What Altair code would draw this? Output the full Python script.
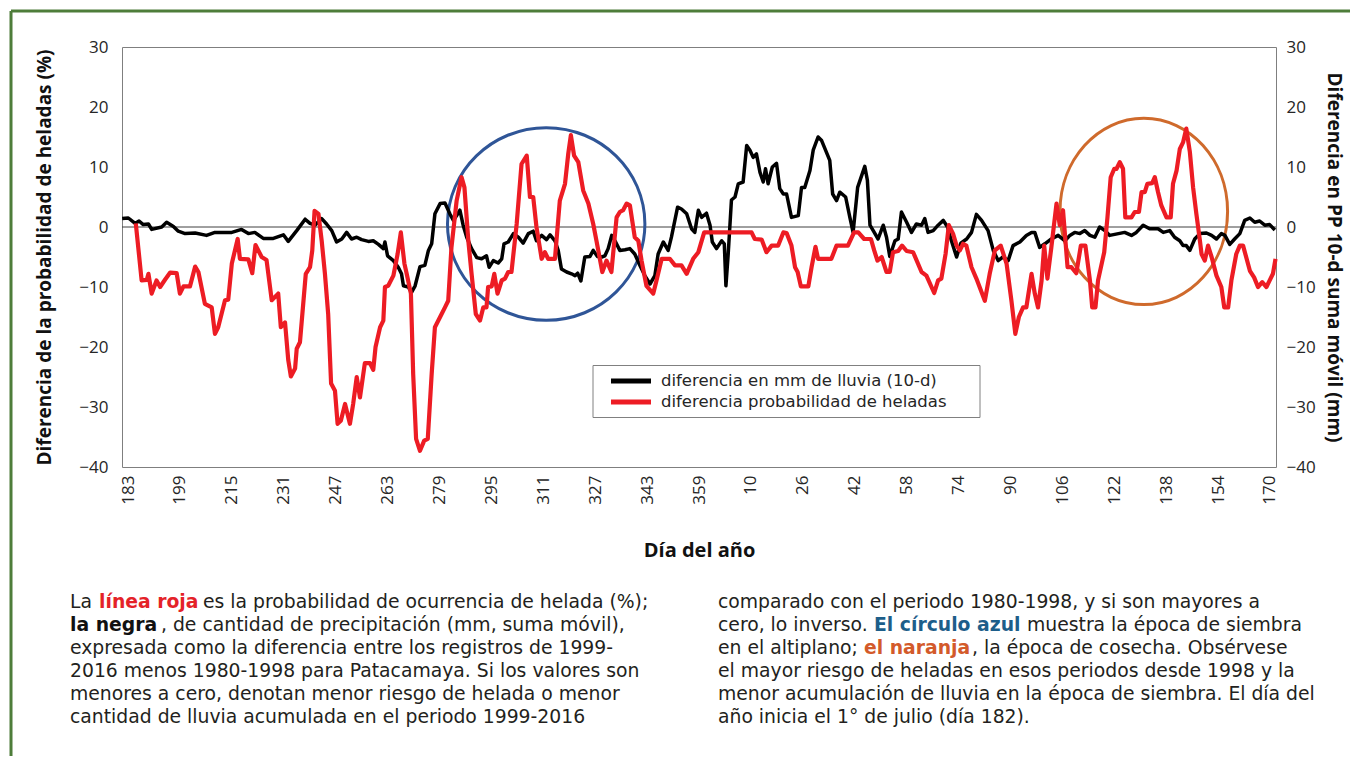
import altair as alt
import pandas as pd

# ---------------- data ----------------
black_days = [181.2, 183.1, 185.2, 186.4, 187.7, 189.3, 190.3, 193.4, 194.9, 197.0, 198.5, 200.6, 203.7, 207.2,
              209.8, 215.0, 218.0, 220.1, 222.1, 224.7, 227.8, 230.9, 232.4, 235.0, 237.6,
              239.1, 240.6, 242.7, 244.2, 245.8, 247.3, 248.9, 250.4, 251.9, 253.5, 255.0, 257.1, 258.6, 260.2,
              261.7, 262.2, 263.0, 264.8, 266.3, 267.3, 267.9, 269.4, 270.4, 271.5, 273.0, 274.5, 275.6, 276.6,
              277.6, 279.2, 280.7, 282.2, 283.3, 284.3, 285.3, 286.3, 287.4, 288.9, 290.5, 292.0, 293.5, 294.3,
              295.6, 297.1, 298.2, 298.9,
              300.2, 301.8, 303.3, 304.8, 306.4, 307.9, 308.9, 310.5, 312.0, 313.1, 314.6, 315.6, 316.6, 318.2,
              319.7, 320.8, 321.6, 322.6, 323.8, 325.4, 326.4, 327.7, 329.0, 330.0, 331.0, 332.1, 333.1, 334.6,
              336.2, 337.7, 339.2, 340.8, 342.3, 343.9, 345.4, 346.4, 348.0, 349.5, 350.5, 352.4, 353.6, 355.2,
              356.7,
              357.7, 358.8, 359.8, 361.3, 362.4, 363.1, 364.4, 366.0, 366.8, 367.3, 368.0, 369.0, 370.1, 371.1,
              372.6, 373.7, 374.7, 375.7, 376.7, 377.8, 378.8, 379.5, 380.3, 381.6, 382.9, 383.9, 385.0, 386.0,
              387.5, 389.6, 390.6, 391.6, 393.2, 394.2, 395.7, 396.8, 399.3, 400.2, 401.4, 402.4, 404.2, 405.5,
              406.5, 407.9, 410.1, 410.9, 411.7, 412.7,
              414.2, 415.8, 416.8, 417.8, 419.4, 420.4, 421.4, 423.0, 424.5, 426.0, 427.6, 428.6, 429.6, 431.2,
              432.7, 434.3, 435.6, 436.8, 438.4, 439.7, 441.5, 443.0, 444.5, 446.1, 448.1, 449.7, 451.2, 452.7,
              454.3, 455.8, 457.9, 459.9, 461.5, 462.5, 464.0, 465.6, 467.6, 469.7,
              471.8, 473.3, 474.8, 476.4, 477.9, 479.5, 481.0, 482.5, 484.1, 485.6, 490.2, 492.3, 493.8, 495.9,
              497.9, 500.5, 502.1, 504.1, 505.6, 507.2, 508.2, 509.2, 510.3, 511.8, 513.4, 515.4, 517.0, 518.5,
              520.0, 521.1, 522.6, 524.1, 525.7, 527.2, 528.8, 530.3, 531.8, 533.4, 534.9, 536.5]
black_vals = [1.4, 1.5, 0.6, 1.0, 0.4, 0.5, -0.4, 0.0, 0.8, 0.1, -0.7, -1.1, -1.0, -1.4,
              -0.9, -0.9, -0.4, -1.1, -0.9, -1.9, -1.9, -1.3, -2.4, -0.6, 1.3,
              0.6, 0.3, 1.4, 0.5, -0.6, -2.5, -2.0, -0.9, -2.0, -1.7, -2.1, -2.4, -2.3, -2.9,
              -3.6, -2.5, -4.8, -5.6, -6.7, -7.8, -9.8, -10.0, -10.9, -9.8, -6.6, -6.4, -3.9, -2.8,
              2.2, 3.9, 4.0, 2.2, 1.1, 1.9, 2.8, 0.3, -1.7, -3.6, -5.1, -5.3, -4.8, -6.7,
              -5.6, -6.0, -5.3, -2.8,
              -2.5, -1.1, -1.7, -2.7, -1.1, -0.7, -2.3, -1.4, -2.1, -1.3, -2.3, -3.9, -7.0, -7.5,
              -7.8, -8.1, -7.7, -9.0, -5.0, -4.9, -3.9, -4.9, -5.0, -4.8, -3.6, -1.4, -2.3, -3.9,
              -3.8, -3.6, -4.5, -6.4, -8.1, -9.5, -8.1, -4.5, -2.5, -3.9, -1.7, 3.3, 3.0, 2.2,
              -0.3,
              -0.9, 2.8, 1.6, 2.3, 0.3, -2.5, -3.6, -2.3, -2.8, -9.8, -4.5, 4.5, 5.0, 7.2,
              7.5, 13.6, 12.8, 11.6, 12.2, 9.1, 7.5, 9.7, 7.2, 10.0, 10.6, 6.4, 5.5, 5.5,
              1.6, 1.9, 6.6, 6.6, 9.4, 12.8, 15.0, 14.4, 11.1, 5.5, 4.4, 5.8, 5.0, 1.6,
              -0.9, 6.6, 10.1, 7.8, 0.3, -0.6,
              -2.0, 0.3, -1.7, -4.9, -2.3, -2.0, 2.5, 0.8, -0.9, 0.5, 0.3, 1.4, -0.9, -0.6,
              0.3, 1.1, 0.0, -2.3, -5.0, -2.7, -2.0, -0.9, 2.1, 1.1, -0.6, -3.9, -5.6, -5.0,
              -5.6, -3.1, -2.5, -1.4, -0.9, -0.9, -3.4, -2.8, -2.0, -1.4,
              -2.3, -1.4, -0.9, -1.1, -0.6, -1.4, -1.7, 0.0, -0.6, -1.4, -0.9, -1.4, -0.9, 0.3,
              -0.3, -0.3, -0.9, -0.6, -1.7, -2.3, -3.1, -3.1, -3.9, -2.0, -1.1, -1.0, -1.4, -2.0,
              -1.1, -1.4, -2.9, -2.0, -1.1, 1.1, 1.5, 0.8, 1.0, 0.3, 0.4, -0.5]

red_days = [185.4, 187.2, 188.8, 189.3, 190.3, 191.8, 192.9, 194.4, 196.0, 198.0, 199.0, 200.1, 202.1, 203.7,
            204.7, 206.7, 208.8, 209.8, 210.8, 212.9, 213.9, 215.0, 216.8, 217.5, 220.1, 221.3, 222.3, 224.2,
            225.7, 227.3, 229.3, 230.1, 231.4, 232.4, 233.2, 234.5, 235.0, 236.0, 237.8, 239.1, 239.8, 240.5,
            241.7, 242.7, 243.7, 244.7, 245.6, 246.8, 247.6, 248.6, 249.9, 251.4, 252.4, 253.5, 254.5, 256.0,
            257.6, 258.6, 259.3, 260.7, 261.7, 262.2, 263.2, 264.8, 266.1, 267.1, 268.2, 268.9, 270.2, 270.9,
            271.8, 273.0, 274.3, 275.4, 276.6, 277.6, 279.2, 280.7, 281.7, 282.7, 284.3, 285.8, 286.7, 287.9,
            288.9, 290.2, 291.5, 292.5, 293.5, 294.0, 295.1, 295.9, 296.9, 298.2, 299.2, 300.2, 301.2, 302.8,
            304.3, 305.9, 306.9, 307.9, 308.9, 310.5, 311.5, 312.5, 314.6, 316.1, 317.7, 318.7, 319.5, 320.5,
            321.8, 323.3, 324.9, 326.4, 327.4, 329.2, 330.5, 332.0, 333.6, 334.6, 335.6, 336.7, 337.7, 339.2,
            340.3, 341.3, 342.8, 344.9, 345.9, 347.5, 350.0, 351.6, 353.6, 355.2, 357.2, 358.8, 360.6, 375.2,
            376.2, 378.3, 379.8, 381.4, 383.4, 385.0, 386.0, 387.5, 388.6, 389.4, 390.4, 392.7, 393.7, 394.9,
            395.7, 399.8, 401.4, 404.9, 406.8, 408.1, 409.9, 412.0, 413.0, 414.0, 415.3, 416.8, 417.8, 418.8,
            420.4, 421.6, 423.0, 425.0, 427.6, 429.1, 431.5, 432.7, 433.7, 435.0, 436.0, 437.3, 438.4, 439.4,
            440.4, 441.4, 443.0, 444.5, 447.1, 448.6, 450.2, 452.0, 453.8, 455.3, 456.5, 457.6, 458.9, 459.9,
            461.5, 462.5, 463.5, 464.6, 465.4, 466.4, 467.6, 469.2, 470.2, 471.2, 472.6, 473.8, 475.3, 476.7,
            478.1, 479.5, 480.2, 481.2, 482.0, 483.9, 484.9, 485.9, 487.0, 487.7, 488.7, 489.7, 490.4, 492.3,
            493.3, 494.6, 495.4, 496.4, 497.2, 498.7, 499.5, 500.5, 501.5, 503.1, 504.4, 505.1, 506.2, 507.2,
            508.2, 509.2, 510.3, 511.3, 512.3, 513.4, 513.9, 514.9, 515.9, 517.0, 518.5, 520.0, 520.9, 522.1,
            523.1, 524.6, 525.7, 526.7, 528.8, 530.1, 531.3, 532.6, 533.9, 534.9, 535.9, 536.7]
red_vals = [0.6, -8.9, -8.8, -7.8, -11.1, -8.9, -10.0, -8.8, -7.6, -7.7, -11.1, -9.9, -9.9, -6.6,
            -7.5, -12.8, -13.4, -17.8, -16.7, -12.2, -12.1, -6.1, -2.0, -5.3, -5.4, -7.7, -3.0, -5.0,
            -5.5, -12.2, -11.1, -16.7, -15.9, -22.2, -24.9, -23.6, -20.3, -19.2, -7.8, -6.7, -3.9, 2.7,
            2.2, -2.3, -7.8, -14.5, -26.1, -27.3, -32.8, -32.3, -29.5, -32.8, -29.5, -25.0, -28.4, -22.7,
            -22.7, -23.8, -20.0, -16.7, -15.6, -10.0, -9.8, -8.1, -4.5, -0.9, -6.1, -7.8, -11.1, -24.5,
            -35.3, -37.3, -35.6, -35.3, -24.5, -16.7, -15.0, -13.4, -12.3, -3.4, 4.4, 8.3, 6.6, -2.3,
            -7.8, -14.5, -15.6, -13.4, -13.4, -10.0, -9.9, -7.8, -11.1, -8.9, -8.6, -7.5, -7.5, 0.5,
            10.5, 11.9, 5.0, 5.0, 0.0, -5.3, -4.2, -5.3, -5.3, 4.4, 7.2, 12.2, 15.3, 11.9,
            10.8, 6.1, 3.9, 0.5, -2.3, -7.5, -5.6, -7.5, 1.6, 2.5, 2.8, 3.9, 3.6, -1.7,
            -2.3, -5.6, -9.8, -11.1, -8.9, -5.3, -5.3, -6.4, -6.4, -7.8, -5.3, -4.2, -0.9, -0.9,
            -2.0, -2.1, -4.2, -3.1, -3.1, -0.9, -1.0, -3.1, -6.7, -7.5, -9.9, -9.9, -6.7, -3.3,
            -5.3, -5.3, -3.1, -3.1, -0.9, -0.9, -2.0, -2.0, -3.9, -5.6, -5.0, -7.5, -7.5, -4.2,
            -4.0, -3.1, -4.0, -4.2, -7.5, -8.1, -11.0, -8.9, -8.6, -4.5, 0.3, -1.1, -3.1, -3.9,
            -2.8, -3.1, -6.7, -8.6, -12.3, -7.8, -3.9, -3.1, -6.1, -12.3, -17.8, -15.0, -13.4, -13.4,
            -7.8, -11.1, -13.4, -8.9, -3.1, -8.6, -3.4, 3.9, 0.3, 2.8, -6.7, -6.7, -7.7, -3.1,
            -3.1, -8.9, -13.4, -13.4, -8.9, -4.2, 1.6, 8.3, 9.7, 9.7, 10.8, 9.7, 1.6, 1.6,
            2.5, 2.5, 5.8, 5.8, 7.2, 7.3, 8.3, 5.8, 3.6, 1.6, 1.6, 7.2, 9.4, 13.0,
            14.1, 16.4, 12.5, 6.6, 2.2, -2.3, -4.5, -5.6, -3.1, -5.0, -8.1, -10.0, -13.4, -13.4,
            -8.9, -4.5, -3.1, -3.1, -7.3, -8.4, -10.0, -9.2, -10.0, -8.9, -7.8, -5.3]

series_names = ["diferencia en mm de lluvia (10-d)", "diferencia probabilidad de heladas"]
series_colors = ["#000000", "#ed1c24"]

tick_days = [183, 199, 215, 231, 247, 263, 279, 295, 311, 327, 343, 359,
             375, 391, 407, 423, 439, 455, 471, 487, 503, 519, 535]
tick_labels = ["183", "199", "215", "231", "247", "263", "279", "295", "311", "327", "343", "359",
               "10", "26", "42", "58", "74", "90", "106", "122", "138", "154", "170"]
y_ticks = [-40, -30, -20, -10, 0, 10, 20, 30]

circle_days = [311.9, 496.1]
circle_vals = [0.5, 2.6]
circle_colors = ["#2f5597", "#cf6a2c"]

left_title = "Diferencia de la probabilidad de heladas (%)"
right_title = "Diferencia en PP 10-d suma móvil (mm)"
x_title = "Día del año"

caption_left = [
    [("La", None), ("línea roja", "#e42228"), ("es la probabilidad de ocurrencia de helada (%);", None)],
    [("la negra", "#111111"), (", de cantidad de precipitación (mm, suma móvil),", None)],
    [("expresada como la diferencia entre los registros de 1999-", None)],
    [("2016 menos 1980-1998 para Patacamaya. Si los valores son", None)],
    [("menores a cero, denotan menor riesgo de helada o menor", None)],
    [("cantidad de lluvia acumulada en el periodo 1999-2016", None)],
]
caption_right = [
    [("comparado con el periodo 1980-1998, y si son mayores a", None)],
    [("cero, lo inverso.", None), ("El círculo azul", "#1d5e8a"), ("muestra la época de siembra", None)],
    [("en el altiplano;", None), ("el naranja", "#d35a2a"), (", la época de cosecha. Obsérvese", None)],
    [("el mayor riesgo de heladas en esos periodos desde 1998 y la", None)],
    [("menor acumulación de lluvia en la época de siembra. El día del", None)],
    [("año inicia el 1° de julio (día 182).", None)],
]

# ---------------- layout / style ----------------
FONT = "Open Sans"
CAP_FONT = "DejaVu Sans"
W, H = 1154, 420
OX, OY = 122, 47          # page position of plot origin
TEXT_COLOR = "#231f20"
CAP_SIZE = 18.8

xscale = alt.Scale(domain=[181.15, 536.85], nice=False, zero=False)
yscale = alt.Scale(domain=[-40, 30], nice=False, zero=False)

label_expr = ("[" + ",".join("'%s'" % s for s in tick_labels) + "][indexof(["
              + ",".join(str(d) for d in tick_days) + "], datum.value)]")

x_enc = alt.X("d:Q", scale=xscale,
              axis=alt.Axis(values=tick_days, labelExpr=label_expr, labelAngle=270, labelFontSize=17,
                            labelPadding=8, ticks=False, domain=False, grid=False, title=x_title,
                            titleFontSize=20, titleFontWeight="bold", titlePadding=36, labelOverlap=False))

df_black = pd.DataFrame({"d": black_days, "v": black_vals})
df_red = pd.DataFrame({"d": red_days, "v": red_vals})

layers = []

# zero line
layers.append(alt.Chart(pd.DataFrame({"v": [0]})).mark_rule(color="#404040", strokeWidth=1).encode(
    y=alt.Y("v:Q", scale=yscale, axis=None), x=alt.value(0), x2=alt.value(W)))


def ellipse_path(ax, ay):
    k = 0.5523
    return (f"M {-ax} 0 C {-ax} {-k*ay:.4f} {-k*ax:.4f} {-ay} 0 {-ay} "
            f"C {k*ax:.4f} {-ay} {ax} {-k*ay:.4f} {ax} 0 "
            f"C {ax} {k*ay:.4f} {k*ax:.4f} {ay} 0 {ay} "
            f"C {-k*ax:.4f} {ay} {-ax} {k*ay:.4f} {-ax} 0 Z")


circle_shapes = [(ellipse_path(1, 0.976), 197.4 ** 2), (ellipse_path(0.899, 1), 186.4 ** 2)]
for i in range(2):
    shp, sz = circle_shapes[i]
    layers.append(alt.Chart(pd.DataFrame({"d": [circle_days[i]], "v": [circle_vals[i]]})).mark_point(
        shape=shp, size=sz, filled=False, strokeWidth=3, color=circle_colors[i], opacity=1).encode(
        x=x_enc, y=alt.Y("v:Q", scale=yscale, axis=None)))

# black series (right axis)
layers.append(alt.Chart(df_black).mark_line(color=series_colors[0], strokeWidth=3.5, strokeJoin="round").encode(
    x=x_enc,
    y=alt.Y("v:Q", scale=yscale,
            axis=alt.Axis(orient="right", values=y_ticks, labelFontSize=17, ticks=False, domain=False,
                          grid=False, labelPadding=10, title=right_title, titleFontSize=19,
                          titleFontWeight="bold", titlePadding=8))))

# red series (left axis)
layers.append(alt.Chart(df_red).mark_line(color=series_colors[1], strokeWidth=4.2, strokeJoin="round").encode(
    x=x_enc,
    y=alt.Y("v:Q", scale=yscale,
            axis=alt.Axis(orient="left", values=y_ticks, labelFontSize=17, ticks=False, domain=False,
                          grid=False, labelPadding=14, title=left_title, titleFontSize=19,
                          titleFontWeight="bold", titlePadding=24))))


def px(x):
    return x - OX


def py(y):
    return y - OY


def text_layer(txt, x, y, color=TEXT_COLOR, weight="normal", size=CAP_SIZE, font=CAP_FONT):
    return alt.Chart(pd.DataFrame({"t": [txt]})).mark_text(
        align="left", baseline="middle", font=font, fontSize=size, fontWeight=weight, color=color).encode(
        x=alt.value(px(x)), y=alt.value(py(y)), text="t:N")


# legend (manual, inside the plot)
layers.append(alt.Chart(pd.DataFrame({"a": [0]})).mark_rect(fill="white", stroke="#808080", strokeWidth=1).encode(
    x=alt.value(px(593)), x2=alt.value(px(980)), y=alt.value(py(365.5)), y2=alt.value(py(417.5))))
leg_y = [381, 402]
for i in range(2):
    layers.append(alt.Chart(pd.DataFrame({"a": [0]})).mark_rule(color=series_colors[i], strokeWidth=5).encode(
        x=alt.value(px(611)), x2=alt.value(px(651)), y=alt.value(py(leg_y[i]))))
    layers.append(text_layer(series_names[i], 661, leg_y[i], color="#262626", size=16.5))

# caption
line_y = [602, 625, 648, 671, 694, 717]
left_starts = [[70, 99, 203], [70, 161], [70], [70], [70], [70]]
right_starts = [[718], [718, 874, 1027], [718, 864, 972], [718], [718], [718]]
for lines, starts in ((caption_left, left_starts), (caption_right, right_starts)):
    for li, segs in enumerate(lines):
        for si, (txt, col) in enumerate(segs):
            if col is None:
                layers.append(text_layer(txt, starts[li][si], line_y[li]))
            else:
                layers.append(text_layer(txt, starts[li][si], line_y[li], color=col, weight="bold"))

# green frame of the figure
layers.append(alt.Chart(pd.DataFrame({"a": [0]})).mark_rule(color="#4e7d3a", strokeWidth=3).encode(
    x=alt.value(px(11)), y=alt.value(py(11)), y2=alt.value(py(766))))
layers.append(alt.Chart(pd.DataFrame({"a": [0]})).mark_rule(color="#4e7d3a", strokeWidth=3).encode(
    x=alt.value(px(11)), x2=alt.value(px(1358)), y=alt.value(py(11))))

chart = alt.layer(*layers).resolve_scale(y="independent").properties(
    width=W, height=H,
    padding={"left": OX - 8, "top": OY - 8, "right": 1342 - (OX - 8) - W, "bottom": 748 - (OY - 8) - H},
    autosize=alt.AutoSizeParams(type="none"),
    background="white",
).configure_view(stroke="#7f7f7f", strokeWidth=1).configure_axis(
    labelFont=FONT, titleFont=FONT, labelColor="#262626", titleColor="#111111")

chart.save("out.html", embed_options={"renderer": "svg", "actions": False})
